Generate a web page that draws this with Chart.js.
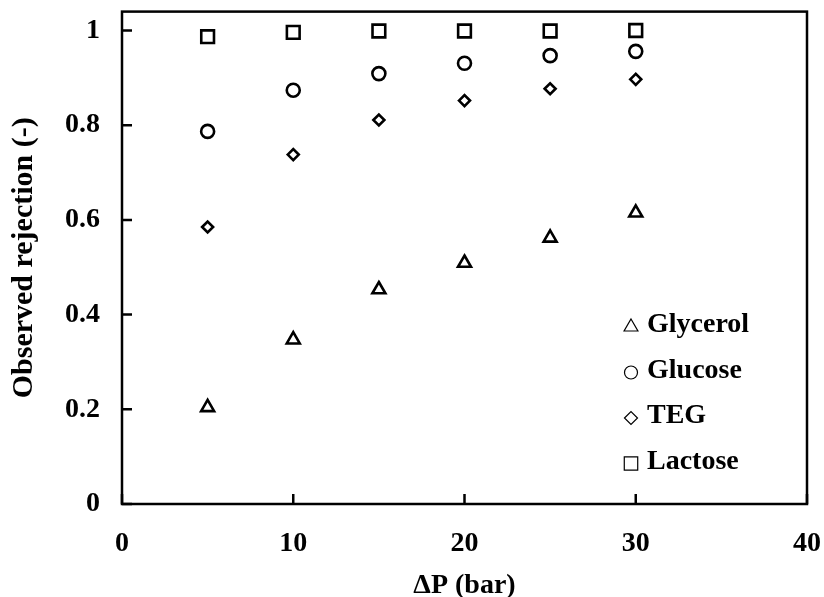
<!DOCTYPE html>
<html>
<head>
<meta charset="utf-8">
<script src="https://cdn.jsdelivr.net/npm/chart.js@4/dist/chart.umd.min.js"></script>
<style>
  html, body { margin: 0; padding: 0; background: #fff; }
  #wrap { width: 824px; height: 597px; }
</style>
</head>
<body>
<div id="wrap"><canvas id="rejectionChart"></canvas></div>
<script>
const pressure = [5, 10, 15, 20, 25, 30];
const glycerol = [0.204, 0.347, 0.453, 0.509, 0.562, 0.615];
const glucose = [0.787, 0.874, 0.909, 0.931, 0.947, 0.956];
const teg = [0.585, 0.738, 0.811, 0.852, 0.877, 0.897];
const lactose = [0.987, 0.996, 0.999, 0.999, 0.999, 1.0];
const xTicks = [0, 10, 20, 30, 40];
const yTicks = [0, 0.2, 0.4, 0.6, 0.8, 1];

const serif = "'Liberation Serif', 'Times New Roman', serif";
const bold28 = { family: serif, size: 28, weight: "bold" };

function toPoints(ys) {
  return pressure.map((x, i) => ({ x: x, y: ys[i] }));
}

function series(label, ys, style, radius, legendRadius) {
  return {
    label: label,
    data: toPoints(ys),
    pointStyle: style,
    pointRadius: radius,
    pointHoverRadius: radius,
    pointBorderWidth: 2.6,
    borderColor: "#000",
    backgroundColor: "#fff",
    showLine: false,
    legendRadius: legendRadius
  };
}

// frame, inward tick marks and the legend box inside the plot
const framePlugin = {
  id: "frame",
  afterDatasetsDraw(chart) {
    const { ctx, chartArea: a, scales } = chart;
    ctx.save();
    ctx.strokeStyle = "#000";
    ctx.lineWidth = 2.5;
    ctx.strokeRect(a.left, a.top, a.right - a.left, a.bottom - a.top);

    ctx.beginPath();
    yTicks.forEach(v => {
      const y = scales.y.getPixelForValue(v);
      ctx.moveTo(a.left, y);
      ctx.lineTo(a.left + 10, y);
    });
    xTicks.forEach(v => {
      const x = scales.x.getPixelForValue(v);
      ctx.moveTo(x, a.bottom);
      ctx.lineTo(x, a.bottom - 10);
    });
    ctx.stroke();

    // legend
    const lx = a.left + 509;
    let ly = 327;
    ctx.font = "bold 28px " + serif;
    ctx.textBaseline = "alphabetic";
    ctx.textAlign = "left";
    chart.data.datasets.forEach(ds => {
      ctx.fillStyle = "#fff";
      ctx.strokeStyle = "#000";
      ctx.lineWidth = 1.2;
      Chart.helpers.drawPoint(ctx, {
        pointStyle: ds.pointStyle,
        radius: ds.legendRadius,
        rotation: 0,
        borderWidth: 1.2
      }, lx, ly);
      ctx.fillStyle = "#000";
      ctx.fillText(ds.label, lx + 16, ly + 5);
      ly += 45.5;
    });
    ctx.restore();
  }
};

new Chart(document.getElementById("rejectionChart").getContext("2d"), {
  type: "scatter",
  data: {
    datasets: [
      series("Glycerol", glycerol, "triangle", 7.5, 8),
      series("Glucose", glucose, "circle", 6.5, 6.5),
      series("TEG", teg, "rectRot", 5.5, 6.5),
      series("Lactose", lactose, "rect", 9, 9.5)
    ]
  },
  options: {
    responsive: true,
    maintainAspectRatio: false,
    animation: false,
    layout: { padding: { top: 10, right: 17, left: 0, bottom: 0 } },
    plugins: {
      legend: { display: false },
      tooltip: { enabled: false }
    },
    scales: {
      x: {
        type: "linear",
        min: 0,
        max: 40,
        afterBuildTicks: s => { s.ticks = xTicks.map(v => ({ value: v })); },
        afterFit: s => {
          s.height = 93;
          s.paddingLeft = 0;
          s.paddingRight = 0;
        },
        grid: { display: false, drawTicks: false },
        border: { display: false },
        ticks: { color: "#000", font: bold28, padding: 23 },
        title: {
          display: true,
          text: "ΔP (bar)",
          color: "#000",
          font: { family: serif, size: 28, weight: "bold", lineHeight: 0.8 },
          padding: 0
        }
      },
      y: {
        min: 0,
        max: 1.04,
        afterBuildTicks: s => { s.ticks = yTicks.map(v => ({ value: v })); },
        afterFit: s => {
          s.width = 122;
          s.paddingTop = 0;
          s.paddingBottom = 0;
        },
        grid: { display: false, drawTicks: false },
        border: { display: false },
        ticks: { color: "#000", font: bold28, padding: 22, callback: v => String(v) },
        title: {
          display: true,
          text: "Observed rejection (-)",
          color: "#000",
          font: { family: serif, size: 30, weight: "bold" },
          padding: { top: 6, bottom: 0 }
        }
      }
    }
  },
  plugins: [framePlugin]
});
</script>
</body>
</html>
